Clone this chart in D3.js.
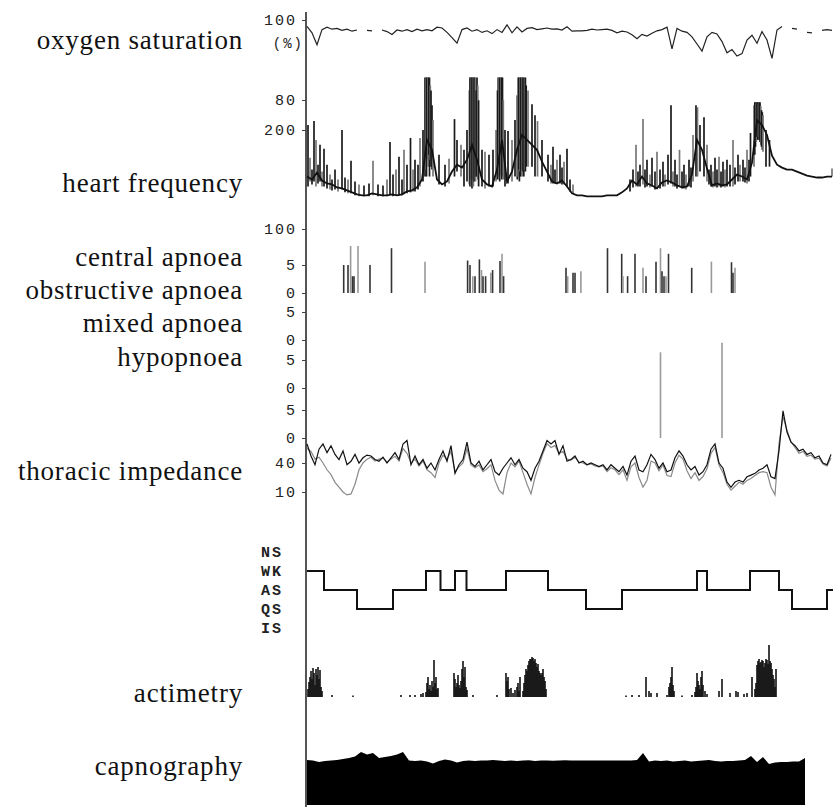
<!DOCTYPE html>
<html>
<head>
<meta charset="utf-8">
<script src="https://cdn.jsdelivr.net/npm/d3@7"></script>
<style>
body { margin: 0; background: #fff; }
svg { display: block; }
.label { font-family: "Liberation Serif", serif; font-size: 27px; letter-spacing: 0.8px; fill: #111; }
.axis text { font-family: "Liberation Mono", monospace; font-size: 15px; letter-spacing: 2px; fill: #222; }
.axis line { stroke: #444; }
.states text { font-weight: bold; }
</style>
</head>
<body>
<svg width="833" height="807"></svg>
<script>
// recording time in minutes
var tMax = 526;

// oxygen saturation (%), one value every 5 min, null = signal lost
var spo2Step = 5;
var spo2 = [98.4, 96.8, 93.8, 97.6, 98.2, 97.7, 97.9, 97.4, 97.7, 97.2,
    97.5, null, 97.4, 97.3, null, 97.5, 97.1, 96.4, 97.5, 97.2,
    97.6, 97.1, 97.7, 97.3, 97.6, 97.3, 98.2, 98.0, 96.9, 95.6,
    94.2, 97.6, 98.0, 97.2, 97.6, 96.9, 97.3, 96.6, 97.6, 96.9,
    98.8, 96.8, 98.3, 97.0, 97.9, 98.1, 97.6, 97.8, 98.0, 97.7,
    97.8, 97.5, 98.3, 97.2, 97.3, 97.3, 97.4, 97.7, 97.5, 97.6,
    97.7, 97.4, 96.8, 97.2, 97.0, 96.3, 95.3, 96.4, 96.0, 96.7,
    97.3, 97.6, 98.2, 92.8, 97.9, 97.2, 96.9, 95.8, 94.0, 92.2,
    95.8, 96.9, 96.5, 94.6, 91.8, 92.6, 91.0, 91.6, 95.0, 96.2,
    94.2, 97.1, 95.0, 90.4, 97.5, 98.4, null, 97.9, 97.7, null,
    96.9, 96.8, null, 97.4, 97.6, 97.4];

// heart frequency (beats/min), every 5 min, plus short peaks [t, from, to]
var hrStep = 5;
var heartRate = [153, 150, 157, 149, 146, 145, 142, 141, 139, 137,
    135, 134, 134, 136, 135, 134, 134, 135, 134, 135,
    138, 139, 142, 150, 190, 180, 150, 145, 148, 158,
    165, 162, 170, 185, 170, 150, 145, 143, 160, 190,
    148, 158, 180, 195, 190, 185, 180, 168, 158, 148,
    146, 149, 143, 136, 134, 134, 133, 133, 133, 133,
    134, 134, 134, 137, 141, 149, 145, 153, 146, 144,
    141, 147, 149, 147, 144, 142, 143, 155, 190, 180,
    161, 144, 146, 144, 145, 150, 155, 153, 150, 167,
    210, 205, 195, 174, 165, 162, 160, 160, 158, 156,
    154, 153, 152, 152, 153, 153];
var hrPeaks = [
    [1,143,205],[3,148,172],[5,145,160],[7,148,209],[9,143,190],[11,146,165],[13,148,185],[15,143,158],[17,143,181],[20,141,165],
    [23,140,155],[25,139,150],[28,140,160],[31,138,150],[35,140,200],[38,137,152],[41,136,150],[44,136,169],[48,134,148],[52,133,145],
    [57,133,144],[62,133,146],[66,134,169],[71,133,145],[76,133,144],[80,133,150],[83,134,188],[86,133,155],[89,134,160],[92,134,173],
    [95,134,150],[97,135,180],[100,136,165],[103.5,137,192],[106,138,160],[108,138,170],[111,140,165],[113,143,192],[116,148,200],
    [118,153,253],[118.8,160,253],[119.5,153,253],[120.3,170,253],[121,163,253],[121.8,175,253],[122.5,153,253],[123.3,170,245],[124,163,240],[125,160,225],[126,153,210],
    [132,145,175],[138,143,165],[142,146,171],[147.5,153,211],[150,158,190],[154,153,185],[157,143,180],[160,148,200],
    [162.3,145,240],[163,143,253],[163.6,150,253],[164.3,143,253],[165,141,253],[165.7,150,253],[166.4,143,253],[167.1,148,253],
    [167.8,155,253],[168.5,148,253],[169.2,153,240],[170,153,253],[170.8,150,245],[171.6,143,230],
    [175,143,180],[178,141,178],[182,143,175],[186,143,180],[189,148,200],
    [190.5,150,240],[191.2,153,253],[192,150,253],[192.7,148,253],[193.4,155,253],[194.1,153,253],[194.8,150,253],[195.5,153,253],[196.3,150,230],
    [198,143,200],[201,146,199],[205,148,190],[208,153,210],
    [210.3,150,235],[211,153,253],[211.7,160,253],[212.4,148,253],[213.1,158,253],[213.8,153,253],[214.5,160,253],
    [215.2,153,253],[216,158,253],[216.8,153,253],[217.6,160,253],[218.4,158,253],[219.2,163,245],
    [221,163,240],[225,163,226],[228,153,215],[230.5,153,209],[235,153,190],[241,148,175],[244,146,165],[246,146,183],[248,146,160],
    [250,146,170],[253,146,175],[255,145,162],[257,145,168],[260,143,181],[263,138,150],[266,136,145],
    [323,138,150],[326,142,160],[329,143,185],[331,143,158],[333,143,165],[336,145,211],[338,142,160],[340,143,170],[343,142,155],
    [345,143,172],[348,140,158],[350,141,178],[353,141,160],[356,143,168],[358,143,155],[361,145,175],[364,146,225],[366,143,158],[368,143,170],
    [370,141,155],[372.5,143,180],[375,141,158],[377,141,165],[379,140,155],[382,143,170],[384,142,162],[386,148,195],
    [389,153,225],[389.8,160,222],[390.5,153,223],[393,158,205],[397,153,213],[400,148,185],[402,145,160],[404,143,165],[406,142,158],
    [408,143,172],[410,142,160],[412,143,173],[414,142,158],[416,143,168],[418,142,160],[420,143,170],[423,143,165],
    [426,143,190],[428,145,162],[431,148,175],[433,148,165],[436,148,170],[438,147,162],[440,146,180],[442,148,170],[443.5,153,197],
    [447,163,225],[447.8,175,228],[448.5,183,228],[449.3,188,227],[450,193,228],[450.8,190,228],[451.5,193,226],[452.3,190,228],
    [453,188,228],[453.8,185,224],[454.5,183,220],[455.3,180,218],[456,178,215],[459,163,200],[462.5,163,190],[525,153,161]
];

// apnoea events [t, duration s]
var apnoeaChannels = ["central apnoea", "obstructive apnoea", "mixed apnoea", "hypopnoea"];
var centralApnoea = [[36.7,5.0],[41,5.0],[43.6,8.4],[45.5,3.0],[47,3.0],[51,8.4],[63,5.0],[84.5,8.0],[118,5.6],
    [160.6,5.8],[163,5.0],[165.8,3.0],[168,3.0],[172.4,6.0],[174.5,4.1],[176,3.0],[178.6,3.0],[183.8,3.6],[185.6,4.1],
    [193,5.7],[195,7.0],[196.6,3.0],[259,4.5],[260.7,3.0],[266,3.6],[268,3.6],[273.9,3.9],[300.5,8.0],
    [314.7,7.0],[316,3.0],[320.6,3.0],[328,7.0],[336,4.5],[339,3.0],[349,5.6],[353.5,8.0],[355,3.9],[357,3.0],
    [359,3.0],[361.5,7.0],[384.7,4.5],[404.4,5.6],[424.5,5.5],[426,3.6],[428,4.5]];
var obstructiveApnoea = [];
var mixedApnoea = [];
var hypopnoea = [[353.5,15.3],[415,17]];

// thoracic impedance, two leads, every 4 min
var thoracicStep = 4;
var thoracicA = [59.7, 47.2, 38.2, 54.3, 59.7, 50.7, 57.9, 48.9, 43.6, 52.5,
    38.2, 41.8, 48.9, 40.0, 45.4, 48.2, 47.2, 43.6, 41.8, 46.1,
    40.0, 45.4, 50.7, 43.6, 59.7, 63.3, 38.2, 47.2, 38.2, 43.6,
    34.6, 40.0, 32.8, 43.6, 52.5, 41.8, 57.9, 29.3, 38.2, 43.6,
    61.5, 40.0, 36.4, 41.8, 32.8, 38.2, 43.6, 31.0, 27.5, 34.6,
    40.0, 45.4, 38.2, 43.6, 34.6, 31.0, 22.1, 34.6, 41.8, 52.5,
    63.3, 59.7, 63.3, 48.9, 57.9, 41.8, 43.6, 47.2, 40.0, 41.8,
    38.2, 40.0, 38.2, 36.4, 38.2, 32.8, 38.2, 34.6, 31.0, 36.4,
    27.5, 41.8, 47.2, 32.8, 31.0, 38.2, 48.9, 43.6, 34.6, 40.0,
    31.0, 32.8, 45.4, 52.5, 47.2, 38.2, 32.8, 36.4, 27.5, 31.0,
    38.2, 54.3, 59.7, 40.0, 34.6, 20.3, 14.9, 20.3, 22.1, 20.3,
    25.7, 27.5, 29.3, 32.8, 34.6, 38.2, 25.7, 23.9, 52.5, 94,
    72, 61.5, 57.9, 52.5, 54.3, 48.9, 50.7, 45.4, 47.2, 40.0,
    38.2, 48.9];
var thoracicB = [55, 52, 44, 46, 40, 33, 28, 20, 15, 10,
    7, 8, 18, 33, 40, 44, 46, 42, 44, 45,
    41, 44, 47, 42, 55, 50, 40, 44, 37, 42,
    33, 30, 25, 40, 48, 44, 52, 31, 36, 40,
    55, 38, 35, 38, 31, 34, 38, 22, 12, 8,
    30, 40, 36, 42, 30, 18, 8, 25, 38, 50,
    60, 56, 58, 50, 52, 44, 43, 46, 41, 40,
    38, 39, 37, 36, 37, 31, 35, 33, 28, 33,
    22, 36, 40, 25, 15, 22, 42, 40, 32, 38,
    27, 26, 40, 48, 44, 32, 24, 30, 22, 26,
    34, 50, 56, 38, 30, 18, 12, 16, 20, 18,
    22, 24, 27, 30, 31, 30, 15, 7, 60, 88,
    74, 62, 56, 50, 52, 47, 48, 44, 45, 39,
    37, 45];

// sleep states, [start t, state]
var sleepStates = ["NS", "WK", "AS", "QS", "IS"];
var hypnogram = [[0,"WK"],[17,"AS"],[50,"QS"],[86,"AS"],[119,"WK"],[133.5,"AS"],[148,"WK"],[159.5,"AS"],
    [199,"WK"],[241,"AS"],[279,"QS"],[315,"AS"],[390,"WK"],[400,"AS"],[443,"WK"],[472,"AS"],[485,"QS"],[520,"AS"]];

// actimetry counts [t, count]
var actimetry = [[1,8],[2,15],[3,20],[4,26],[5,18],[6,29],[7,24],[8,12],[9,28],[10,22],[11,30],[12,18],[13,27],[14,10],[15,6],
    [25,2],[46,1.5],[94,2],[103,2],[108,2],[114,3],[116,4],
    [119,5],[120,14],[121,20],[122,8],[123,12],[124,6],[125,16],[126,10],[127,37],[128,14],[129,20],[130,8],[131,9],
    [147,24],[148,18],[149,10],[150,14],[151,22],[152,12],[153,9],[154,16],[155,28],[156,36],[157,20],[158,30],[159,10],[160,7],
    [166,2],[190,2],
    [199,24],[200,16],[201,20],[202,8],[204,9],[206,4],[208,7],[210,10],[211,14],[212,6],[213,20],
    [216,6],[217,14],[218,22],[219,28],[220,26],[221,32],[222,36],[223,38],[224,38],[225,40],[226,39],[227,36],[228,38],
    [229,34],[230,30],[231,33],[232,26],[233,24],[234,22],[235,24],[236,28],[237,20],[238,16],[239,8],
    [319,1.5],[325,2],[332,2],[339,20],[342,6],[344,4],[350,4],
    [360,2],[362,10],[363,14],[364,20],[365,30],[366,12],[367,6],
    [375,1.5],[385,2],
    [388,5],[389,10],[390,24],[391,16],[392,12],[393,8],[394,20],[395,26],[396,12],[398,6],[400,3],
    [412,6],[415,18],[423,4],[429,6],[431,5],[437,3],[440,4],[445,20],
    [448,8],[449,14],[450,32],[451,36],[452,38],[453,34],[454,35],[455,37],[456,36],[457,30],[458,34],[459,38],
    [460,37],[461,33],[462,52],[463,36],[464,34],[465,28],[466,22],[467,18],[468,10],[469,28]];

// end tidal CO2 (mmHg), every 6 min
var capnoStep = 6;
var capnography = [45, 44.5, 43, 44, 44.5, 45, 46, 47, 48.5, 53,
    50.5, 52, 47, 48, 49, 50.5, 53, 44.5, 44, 44.5,
    43.5, 41.5, 44, 45.5, 44.5, 42.5, 44, 44.5, 44, 44.5,
    44.5, 45, 44.5, 44, 44.5, 44, 44.5, 44.8, 44, 44.5,
    44.5, 44.3, 44.5, 44.7, 44.5, 44.4, 44.5, 44.6, 44.5, 44.5,
    44.4, 44.5, 44.6, 44.5, 44.4, 45, 52, 43.5, 44.5, 44,
    44.5, 43.5, 44, 44.5, 43.5, 44, 44.5, 45, 44, 43.5,
    44, 44, 44.5, 45, 49, 43, 48, 41, 42.5, 43,
    43, 43.5, 43.5, 47];

var spo2Ticks = [80, 100];
var hrTicks = [100, 200];
var apnoeaTicks = [0, 5];
var thoracicTicks = [10, 40];
var labelTexts = ["oxygen saturation", "heart frequency", "central apnoea", "obstructive apnoea",
    "mixed apnoea", "hypopnoea", "thoracic impedance", "actimetry", "capnography"];

var svg = d3.select("svg");
svg.append("rect").attr("width", 833).attr("height", 807).attr("fill", "#fff");

var axisX = 306;
var x = d3.scaleLinear().domain([0, tMax]).range([307, 833]);

var ySpo2 = d3.scaleLinear().domain([80, 100]).range([100, 20]);
var yHr = d3.scaleLinear().domain([100, 200]).range([229, 130]);
var apZero = [293, 340, 388, 438];
var yAp = apZero.map(function(z) { return d3.scaleLinear().domain([0, 5]).range([z, z - 28]); });
var yTh = d3.scaleLinear().domain([10, 40]).range([492, 463]);
var yState = d3.scalePoint().domain(sleepStates).range([552, 628]);
var yAct = d3.scaleLinear().domain([0, 60]).range([697, 637]);
var yCap = d3.scaleLinear().domain([0, 60]).range([805, 745]);

// series names on the left
var labelY = [40, 183, 257, 290, 323, 357, 471, 693, 766];
svg.selectAll(".label")
    .data(labelTexts)
    .enter().append("text")
        .attr("class", "label")
        .attr("x", 243)
        .attr("y", function(d, i) { return labelY[i]; })
        .attr("dy", "0.35em")
        .attr("text-anchor", "end")
        .text(function(d) { return d; });

// one long vertical axis line
svg.append("line")
    .attr("x1", axisX).attr("x2", axisX)
    .attr("y1", 12).attr("y2", 807)
    .attr("stroke", "#555").attr("stroke-width", 2);

function leftAxis(scale, ticks) {
    svg.append("g")
        .attr("class", "axis")
        .attr("transform", "translate(" + axisX + ",0)")
        .call(d3.axisLeft(scale).tickValues(ticks).tickFormat(d3.format("d")).tickSize(4).tickPadding(5))
        .call(function(g) { g.select(".domain").remove(); });
}
leftAxis(ySpo2, spo2Ticks);
leftAxis(yHr, hrTicks);
yAp.forEach(function(s) { leftAxis(s, apnoeaTicks); });
leftAxis(yTh, thoracicTicks);

svg.append("text")
    .attr("x", 304).attr("y", 43).attr("dy", "0.35em")
    .attr("text-anchor", "end")
    .style("font-family", "Liberation Mono, monospace")
    .style("font-size", "14px")
    .style("letter-spacing", "2px")
    .attr("fill", "#222")
    .text("(%)");

// oxygen saturation
var spo2Line = d3.line()
    .defined(function(d) { return d != null; })
    .x(function(d, i) { return x(i * spo2Step); })
    .y(function(d) { return ySpo2(d); });
svg.append("path")
    .attr("d", spo2Line(spo2))
    .attr("fill", "none").attr("stroke", "#222").attr("stroke-width", 1.2);

// heart frequency
var hrLine = d3.line()
    .x(function(d, i) { return x(i * hrStep); })
    .y(function(d) { return yHr(d); });
svg.append("g").selectAll("line")
    .data(hrPeaks)
    .enter().append("line")
        .attr("x1", function(d) { return x(d[0]); })
        .attr("x2", function(d) { return x(d[0]); })
        .attr("y1", function(d) { return yHr(d[1]); })
        .attr("y2", function(d) { return yHr(d[2]); })
        .attr("stroke", function(d, i) { return i % 3 == 1 ? "#777" : "#1a1a1a"; })
        .attr("stroke-width", 1.7);
svg.append("path")
    .attr("d", hrLine(heartRate))
    .attr("fill", "none").attr("stroke", "#111").attr("stroke-width", 1.8);

// apnoea bars
[centralApnoea, obstructiveApnoea, mixedApnoea, hypopnoea].forEach(function(events, c) {
    svg.append("g").selectAll("line")
        .data(events)
        .enter().append("line")
            .attr("x1", function(d) { return x(d[0]); })
            .attr("x2", function(d) { return x(d[0]); })
            .attr("y1", yAp[c](0))
            .attr("y2", function(d) { return yAp[c](d[1]); })
            .attr("stroke", function(d, i) { return c == 3 || i % 3 == 2 ? "#999" : "#333"; })
            .attr("stroke-width", 1.6);
});

// thoracic impedance
var thLine = d3.line()
    .x(function(d, i) { return x(i * thoracicStep); })
    .y(function(d) { return yTh(d); });
svg.append("path")
    .attr("d", thLine(thoracicB))
    .attr("fill", "none").attr("stroke", "#8a8a8a").attr("stroke-width", 1.2);
svg.append("path")
    .attr("d", thLine(thoracicA))
    .attr("fill", "none").attr("stroke", "#111").attr("stroke-width", 1.2);

// sleep states
svg.append("g")
    .attr("class", "axis states")
    .attr("transform", "translate(" + axisX + ",0)")
    .call(d3.axisLeft(yState).tickSize(0).tickPadding(23))
    .call(function(g) { g.select(".domain").remove(); });

var stagePts = hypnogram.concat([[tMax, hypnogram[hypnogram.length - 1][1]]]);
var stageLine = d3.line()
    .curve(d3.curveStepAfter)
    .x(function(d) { return x(d[0]); })
    .y(function(d) { return yState(d[1]); });
svg.append("path")
    .attr("d", stageLine(stagePts))
    .attr("fill", "none").attr("stroke", "#111").attr("stroke-width", 2);

// actimetry
svg.append("g").selectAll("line")
    .data(actimetry)
    .enter().append("line")
        .attr("x1", function(d) { return x(d[0]); })
        .attr("x2", function(d) { return x(d[0]); })
        .attr("y1", yAct(0))
        .attr("y2", function(d) { return yAct(d[1]); })
        .attr("stroke", "#111")
        .attr("stroke-width", 1.6);

// capnography
var capArea = d3.area()
    .x(function(d, i) { return x(i * capnoStep); })
    .y0(yCap(0))
    .y1(function(d) { return yCap(d); });
svg.append("path")
    .attr("d", capArea(capnography))
    .attr("fill", "#000");
</script>
</body>
</html>
